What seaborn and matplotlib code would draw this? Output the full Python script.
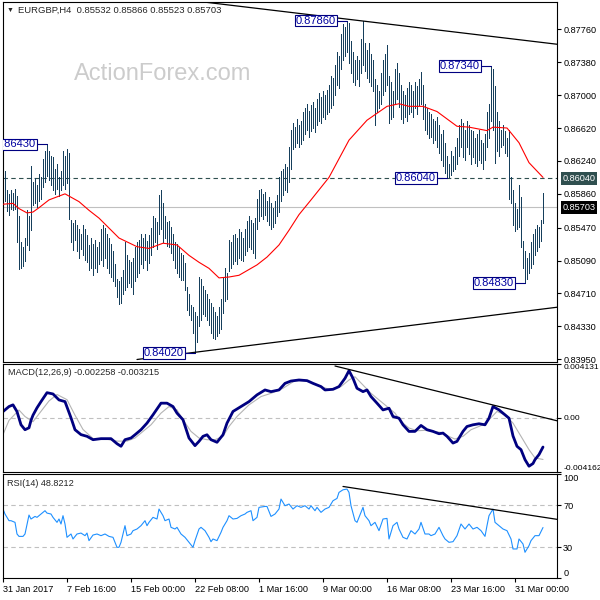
import numpy as np
import pandas as pd
import seaborn as sns
import matplotlib.pyplot as plt
import matplotlib.transforms as mtransforms

sns.set_style("white")
plt.rcParams['font.family'] = ['Liberation Sans', 'DejaVu Sans']

# ---- values (H4 bars, index 0 = 31 Jan 2017 00:00) ----
title_text = "EURGBP,H4  0.85532 0.85866 0.85523 0.85703"
macd_text = "MACD(12,26,9) -0.002258 -0.003215"
rsi_text = "RSI(14) 48.8212"

highs = [
    0.8627, 0.8612, 0.8590, 0.8586, 0.8590, 0.8587, 0.8592, 0.8583, 0.8560, 0.8530,
    0.8525, 0.8535, 0.8567, 0.8560, 0.8618, 0.8600, 0.8604, 0.8596, 0.8609, 0.8606,
    0.8626, 0.8635, 0.8643, 0.8635, 0.8630, 0.8628, 0.8615, 0.8620, 0.8605, 0.8612,
    0.8636, 0.8630, 0.8638, 0.8633, 0.8556, 0.8552, 0.8556, 0.8550, 0.8545, 0.8540,
    0.8550, 0.8545, 0.8538, 0.8527, 0.8535, 0.8528, 0.8533, 0.8525, 0.8530, 0.8545,
    0.8550, 0.8546, 0.8540, 0.8535, 0.8528, 0.8520, 0.8505, 0.8488, 0.8485, 0.8490,
    0.8498, 0.8530, 0.8515, 0.8510, 0.8507, 0.8512, 0.8525, 0.8530, 0.8533, 0.8540,
    0.8535, 0.8540, 0.8532, 0.8538, 0.8547, 0.8560, 0.8558, 0.8553, 0.8585, 0.8591,
    0.8575, 0.8560, 0.8553, 0.8555, 0.8548, 0.8540, 0.8530, 0.8528, 0.8525, 0.8518,
    0.8515, 0.8506, 0.8478, 0.8470, 0.8458, 0.8455, 0.8450, 0.8445, 0.8490, 0.8488,
    0.8480, 0.8475, 0.8470, 0.8465, 0.8460, 0.8455, 0.8450, 0.8445, 0.8455, 0.8465,
    0.8490, 0.8500, 0.8495, 0.8533, 0.8530, 0.8538, 0.8540, 0.8535, 0.8545, 0.8542,
    0.8535, 0.8545, 0.8555, 0.8560, 0.8556, 0.8552, 0.8558, 0.8580, 0.8590, 0.8592,
    0.8586, 0.8588, 0.8578, 0.8582, 0.8575, 0.8570, 0.8578, 0.8585, 0.8605, 0.8612,
    0.8615, 0.8620, 0.8617, 0.8640, 0.8660, 0.8668, 0.8663, 0.8672, 0.8666, 0.8670,
    0.8680, 0.8685, 0.8690, 0.8682, 0.8688, 0.8692, 0.8685, 0.8695, 0.8702, 0.8698,
    0.8705, 0.8700, 0.8706, 0.8712, 0.8722, 0.8720, 0.8735, 0.8750, 0.8745, 0.8770,
    0.8782, 0.8779, 0.8786, 0.8783, 0.8762, 0.8750, 0.8740, 0.8745, 0.8740, 0.8765,
    0.8785, 0.8760, 0.8752, 0.8760, 0.8748, 0.8740, 0.8718, 0.8712, 0.8705, 0.8725,
    0.8740, 0.8748, 0.8758, 0.8722, 0.8715, 0.8705, 0.8730, 0.8737, 0.8725, 0.8712,
    0.8705, 0.8700, 0.8708, 0.8715, 0.8712, 0.8705, 0.8715, 0.8710, 0.8718, 0.8727,
    0.8712, 0.8690, 0.8685, 0.8680, 0.8678, 0.8672, 0.8670, 0.8675, 0.8665, 0.8655,
    0.8660, 0.8645, 0.8630, 0.8620, 0.8635, 0.8630, 0.8640, 0.8650, 0.8665, 0.8672,
    0.8668, 0.8660, 0.8670, 0.8665, 0.8660, 0.8658, 0.8650, 0.8655, 0.8660, 0.8648,
    0.8645, 0.8655, 0.8680, 0.8690, 0.8734, 0.8730, 0.8710, 0.8680, 0.8670, 0.8660,
    0.8665, 0.8658, 0.8650, 0.8660, 0.8605, 0.8590, 0.8575, 0.8568, 0.8596, 0.8582,
    0.8532, 0.8520, 0.8512, 0.8518, 0.8530, 0.8540, 0.8545, 0.8550, 0.8548, 0.8556,
    0.85866]
lows = [
    0.8550, 0.8578, 0.8566, 0.8562, 0.8569, 0.8567, 0.8568, 0.8530, 0.8499, 0.8500,
    0.8503, 0.8508, 0.8527, 0.8521, 0.8544, 0.8573, 0.8575, 0.8571, 0.8578, 0.8580,
    0.8594, 0.8600, 0.8607, 0.8602, 0.8596, 0.8590, 0.8586, 0.8592, 0.8584, 0.8590,
    0.8596, 0.8592, 0.8598, 0.8557, 0.8530, 0.8521, 0.8533, 0.8520, 0.8512, 0.8522,
    0.8515, 0.8510, 0.8507, 0.8498, 0.8500, 0.8492, 0.8500, 0.8496, 0.8505, 0.8510,
    0.8503, 0.8512, 0.8500, 0.8495, 0.8490, 0.8485, 0.8480, 0.8467, 0.8459, 0.8460,
    0.8470, 0.8475, 0.8478, 0.8483, 0.8478, 0.8470, 0.8485, 0.8490, 0.8495, 0.8505,
    0.8500, 0.8510, 0.8498, 0.8506, 0.8515, 0.8525, 0.8530, 0.8522, 0.8540, 0.8545,
    0.8530, 0.8535, 0.8526, 0.8525, 0.8518, 0.8510, 0.8500, 0.8495, 0.8490, 0.8486,
    0.8487, 0.8475, 0.8452, 0.8446, 0.8440, 0.8425, 0.8402, 0.8415, 0.8433, 0.8440,
    0.8447, 0.8445, 0.8440, 0.8435, 0.8425, 0.8420, 0.8418, 0.8422, 0.8425, 0.8430,
    0.8448, 0.8462, 0.8465, 0.8497, 0.8500, 0.8505, 0.8508, 0.8505, 0.8512, 0.8510,
    0.8508, 0.8515, 0.8520, 0.8525, 0.8522, 0.8518, 0.8512, 0.8545, 0.8555, 0.8560,
    0.8557, 0.8562, 0.8555, 0.8550, 0.8545, 0.8548, 0.8552, 0.8560, 0.8565, 0.8578,
    0.8585, 0.8590, 0.8588, 0.8600, 0.8615, 0.8638, 0.8640, 0.8645, 0.8640, 0.8643,
    0.8648, 0.8655, 0.8660, 0.8652, 0.8658, 0.8662, 0.8657, 0.8665, 0.8670, 0.8668,
    0.8675, 0.8672, 0.8678, 0.8680, 0.8685, 0.8688, 0.8700, 0.8712, 0.8708, 0.8730,
    0.8740, 0.8745, 0.8750, 0.8737, 0.8725, 0.8715, 0.8712, 0.8718, 0.8710, 0.8725,
    0.8735, 0.8728, 0.8720, 0.8715, 0.8710, 0.8705, 0.8665, 0.8680, 0.8685, 0.8690,
    0.8700, 0.8705, 0.8712, 0.8668, 0.8672, 0.8675, 0.8690, 0.8695, 0.8686, 0.8672,
    0.8668, 0.8675, 0.8670, 0.8678, 0.8680, 0.8675, 0.8685, 0.8678, 0.8688, 0.8690,
    0.8672, 0.8660, 0.8655, 0.8650, 0.8652, 0.8645, 0.8648, 0.8640, 0.8633, 0.8625,
    0.8618, 0.8610, 0.8604, 0.8606, 0.8608, 0.8612, 0.8615, 0.8620, 0.8630, 0.8640,
    0.8628, 0.8625, 0.8640, 0.8632, 0.8620, 0.8628, 0.8622, 0.8618, 0.8625, 0.8622,
    0.8615, 0.8625, 0.8640, 0.8650, 0.8670, 0.8660, 0.8622, 0.8635, 0.8630, 0.8640,
    0.8642, 0.8633, 0.8630, 0.8580, 0.8575, 0.8550, 0.8543, 0.8545, 0.8548, 0.8525,
    0.8500, 0.8483, 0.8488, 0.8495, 0.8500, 0.8505, 0.8515, 0.8520, 0.8525, 0.8532,
    0.85523]

# moving average (red)
ma_idx = [0, 5, 8, 12, 15, 18, 23, 31, 38, 43, 48, 58, 67, 73, 80, 87, 93, 98, 103,
          108, 113, 118, 127, 132, 138, 143, 148, 154, 163, 173, 182, 192, 198, 203,
          210, 217, 227, 233, 242, 245, 252, 258, 263, 270]
ma_val = [0.8574, 0.8575, 0.8569, 0.8564, 0.8565, 0.8570, 0.8579, 0.8586, 0.8577,
          0.8567, 0.8558, 0.8535, 0.8525, 0.8523, 0.8529, 0.8527, 0.8515, 0.8507,
          0.8500, 0.8489, 0.8490, 0.8492, 0.8504, 0.8513, 0.8527, 0.8544, 0.8562,
          0.8579, 0.8605, 0.8648, 0.8671, 0.8687, 0.8690, 0.8687, 0.8687, 0.8681,
          0.8664, 0.8663, 0.8659, 0.8663, 0.8662, 0.8645, 0.8622, 0.8605]

macd_idx = [0, 3, 5, 7, 9, 11, 13, 14, 15, 17, 19, 22, 25, 28, 31, 34, 36, 39, 42, 45,
            49, 54, 57, 59, 61, 64, 66, 69, 72, 75, 79, 82, 85, 87, 90, 93, 96, 98, 100,
            102, 104, 107, 110, 112, 115, 119, 123, 127, 131, 134, 138, 141, 144, 148,
            152, 155, 159, 161, 165, 168, 171, 173, 175, 177, 180, 182, 184, 187, 190,
            193, 195, 198, 200, 203, 206, 209, 212, 215, 218, 220, 222, 225, 227, 230,
            232, 235, 238, 241, 243, 245, 248, 251, 253, 255, 257, 259, 261, 263, 265,
            266, 268, 270]
macd_val = [0.00048, 0.00087, 0.00100, 0.00048, -0.00054, -0.00092, -0.00077, -0.00020,
            0.00020, 0.00077, 0.00125, 0.00194, 0.00184, 0.00138, 0.00125, 0.00000,
            -0.00092, -0.00130, -0.00143, -0.00169, -0.00161, -0.00161, -0.00200,
            -0.00220, -0.00169, -0.00156, -0.00131, -0.00092, -0.00041, 0.00023,
            0.00113, 0.00113, 0.00087, 0.00036, -0.00015, -0.00156, -0.00215, -0.00182,
            -0.00143, -0.00131, -0.00169, -0.00189, -0.00131, -0.00041, 0.00049,
            0.00087, 0.00125, 0.00177, 0.00215, 0.00202, 0.00215, 0.00266, 0.00284,
            0.00292, 0.00287, 0.00266, 0.00241, 0.00215, 0.00220, 0.00241, 0.00305,
            0.00364, 0.00305, 0.00228, 0.00202, 0.00215, 0.00164, 0.00113, 0.00061,
            0.00074, 0.00010, -0.00003, -0.00054, -0.00105, -0.00105, -0.00059,
            -0.00092, -0.00105, -0.00123, -0.00118, -0.00143, -0.00195, -0.00182,
            -0.00105, -0.00067, -0.00054, -0.00046, -0.00054, -0.00003, 0.00087,
            0.00061, 0.00023, -0.00003, -0.00140, -0.00220, -0.00246, -0.00323,
            -0.00374, -0.00353, -0.00323, -0.00284, -0.002258]
signal_idx = [0, 3, 8, 11, 15, 19, 23, 27, 32, 36, 40, 45, 50, 57, 62, 66, 69, 74, 79,
              83, 87, 90, 94, 98, 102, 106, 110, 113, 117, 123, 129, 134, 140, 146, 152,
              157, 163, 169, 173, 176, 180, 184, 188, 192, 196, 199, 203, 207, 211, 215,
              219, 222, 226, 230, 234, 240, 243, 247, 251, 255, 259, 263, 266, 270]
signal_val = [-0.0013, -0.0002, 0.0006, 0.0001, -0.0003, 0.0005, 0.0013, 0.0018, 0.0014,
              0.0002, -0.0009, -0.0016, -0.0016, -0.0018, -0.0018, -0.00156, -0.00118,
              -0.00054, 0.00036, 0.00087, 0.00061, -0.00015, -0.00105, -0.00156,
              -0.00169, -0.00169, -0.00143, -0.00067, 0.00010, 0.00100, 0.00164,
              0.00189, 0.00228, 0.00287, 0.00287, 0.00253, 0.00220, 0.00241, 0.00292,
              0.00317, 0.00253, 0.00189, 0.00138, 0.00087, 0.00036, -0.00028, -0.00079,
              -0.00100, -0.00097, -0.00105, -0.00113, -0.00138, -0.00164, -0.00143,
              -0.00092, -0.00054, -0.00015, 0.00049, 0.00023, -0.00041, -0.00143,
              -0.00246, -0.00310, -0.003215]

rsi_idx = [0, 1, 3, 4, 6, 7, 8, 10, 11, 13, 14, 16, 17, 19, 20, 21, 22, 24, 25, 27, 28,
           29, 30, 31, 32, 34, 35, 37, 39, 41, 42, 43, 45, 47, 49, 51, 53, 55, 57, 58,
           59, 61, 62, 64, 65, 67, 69, 71, 72, 73, 75, 77, 78, 80, 81, 83, 84, 86, 87,
           89, 91, 93, 95, 96, 98, 99, 101, 103, 104, 105, 107, 109, 110, 112, 113, 115,
           117, 119, 121, 122, 124, 125, 127, 128, 131, 132, 134, 136, 138, 139, 141,
           143, 145, 147, 149, 151, 153, 154, 156, 157, 159, 161, 163, 165, 167, 168,
           170, 172, 173, 174, 176, 177, 178, 180, 181, 183, 184, 186, 188, 190, 192,
           193, 195, 197, 198, 200, 202, 204, 206, 208, 209, 211, 213, 214, 216, 218,
           220, 221, 223, 225, 227, 229, 231, 233, 235, 237, 239, 241, 242, 243, 245,
           246, 248, 250, 252, 254, 255, 257, 258, 260, 261, 263, 264, 266, 268, 270]
rsi_val = [66.6, 61.8, 55.4, 55.4, 53.8, 42.6, 40.3, 40.3, 42.6, 60.8, 57.0, 59.5, 58.6,
           61.8, 63.4, 65.0, 62.7, 61.8, 58.6, 53.8, 57.0, 52.2, 60.2, 52.2, 39.4, 42.6,
           37.8, 42.6, 43.5, 41.0, 43.5, 36.2, 41.6, 42.6, 41.0, 42.6, 40.3, 39.4, 29.8,
           29.8, 34.6, 50.6, 41.0, 42.6, 45.8, 47.4, 50.6, 55.4, 50.6, 53.8, 58.6, 57.0,
           66.6, 60.2, 55.4, 57.0, 49.0, 47.4, 49.0, 42.6, 39.4, 34.6, 29.8, 36.2, 47.4,
           49.0, 45.8, 39.4, 35.2, 37.8, 36.2, 44.2, 49.0, 55.4, 60.2, 57.0, 57.6, 60.2,
           61.8, 63.4, 65.0, 55.4, 58.6, 68.2, 69.1, 69.1, 59.5, 61.8, 66.6, 76.2, 69.8,
           71.4, 66.6, 69.8, 68.2, 69.8, 66.6, 69.8, 65.0, 68.2, 63.4, 66.6, 68.2, 74.6,
           76.8, 82.6, 85.1, 85.8, 82.6, 69.8, 55.4, 53.8, 58.6, 68.2, 60.2, 55.4, 50.6,
           53.8, 45.8, 57.0, 57.6, 37.8, 50.6, 53.8, 47.4, 39.4, 37.8, 45.8, 42.6, 47.4,
           53.8, 42.6, 42.6, 41.0, 42.6, 49.0, 41.0, 37.8, 34.6, 35.2, 41.0, 52.2, 47.4,
           52.2, 47.4, 49.0, 45.8, 40.3, 50.6, 60.2, 66.6, 53.8, 50.6, 47.4, 45.8, 37.8,
           28.2, 28.2, 37.8, 33.0, 25.0, 31.4, 36.2, 41.0, 41.0, 48.82]

# trend lines (bar index, value)
res_x, res_y = [102, 277], [0.8807, 0.87587]
sup_x, sup_y = [67, 277], [0.83948, 0.84551]
macd_tl_x, macd_tl_y = [166, 277], [0.0040, -0.00023]
rsi_tl_x, rsi_tl_y = [170, 277], [88.3, 56.7]

# swing labels
swing_idx = [22, 172, 244, 222, 261, 96]
swing_val = [0.8643, 0.8786, 0.8734, 0.8604, 0.8483, 0.8402]

level_price = 0.8604
last_price = 0.85703

price_ticks = [0.8395, 0.8433, 0.8471, 0.8509, 0.8547, 0.8586, 0.8624, 0.8662,
               0.8700, 0.8738, 0.8776]
macd_ticks = [-0.004162, 0.0, 0.004131]
macd_labels = ["-0.004162", "0.00", "0.004131"]
rsi_ticks = [0, 30, 70, 100]
date_idx = [0, 32, 64, 96, 128, 160, 192, 224, 256]
date_labels = ["31 Jan 2017", "7 Feb 16:00", "15 Feb 00:00", "22 Feb 08:00",
               "1 Mar 16:00", "9 Mar 00:00", "16 Mar 08:00", "23 Mar 16:00",
               "31 Mar 00:00"]

BAR = "#163f5c"
NAVY = "#000080"
FS = 6.6

fig = plt.figure(figsize=(6, 6), dpi=100)
ax1 = fig.add_axes([0.0045, 0.39667, 0.92433, 0.6005])
ax2 = fig.add_axes([0.0045, 0.21383, 0.92433, 0.179], sharex=ax1)
ax3 = fig.add_axes([0.0045, 0.03617, 0.92433, 0.17333], sharex=ax1)

# price panel
bars = pd.DataFrame({"bar": np.arange(len(highs)), "high": highs, "low": lows})
ax1.axhline(last_price, color="#c0c0c0", lw=0.8, zorder=1)
ax1.axhline(level_price, color="#2f4f4f", lw=0.8, ls=(0, (4, 3)), zorder=1)
ax1.vlines(bars["bar"], bars["low"], bars["high"], color=BAR, lw=0.5,
           antialiased=False, zorder=2)
sns.lineplot(x=ma_idx, y=ma_val, ax=ax1, color="red", lw=0.8, zorder=3)
sns.lineplot(x=res_x, y=res_y, ax=ax1, color="black", lw=0.9, zorder=3)
sns.lineplot(x=sup_x, y=sup_y, ax=ax1, color="black", lw=0.9, zorder=3)

for i, v in zip(swing_idx, swing_val):
    ax1.plot([i - 5, i], [v, v], color=NAVY, lw=0.8, zorder=4)
    ax1.annotate(f"{v:.5f}", xy=(i, v), xytext=(-8.0, 0), textcoords="offset points",
                 ha="right", va="center", fontsize=8, color="#0000a0", clip_on=True,
                 bbox=dict(boxstyle="square,pad=0.08", fc="white", ec=NAVY, lw=0.8),
                 zorder=5)

blend = mtransforms.blended_transform_factory(ax1.transAxes, ax1.transData)
ax1.text(1.0095, level_price, f"{level_price:.5f}", transform=blend, ha="left",
         va="center", fontsize=FS, color="white", clip_on=False,
         bbox=dict(boxstyle="square,pad=0.2", fc="#2f4f4f", ec="none"))
ax1.text(1.0095, last_price, f"{last_price:.5f}", transform=blend, ha="left",
         va="center", fontsize=FS, color="white", clip_on=False,
         bbox=dict(boxstyle="square,pad=0.2", fc="black", ec="none"))

ax1.set_ylim(0.83919, 0.88078)
ax1.set_yticks(price_ticks, [f"{p:.5f}" for p in price_ticks])

# MACD panel
ax2.axhline(0, color="#c0c0c0", lw=0.8, ls=(0, (4, 3)))
sns.lineplot(x=signal_idx, y=signal_val, ax=ax2, color="#b4b4b4", lw=0.8)
sns.lineplot(x=macd_idx, y=macd_val, ax=ax2, color=NAVY, lw=2.0)
sns.lineplot(x=macd_tl_x, y=macd_tl_y, ax=ax2, color="black", lw=0.9)
ax2.set_ylim(-0.004162, 0.004131)
ax2.set_yticks(macd_ticks, macd_labels)

# RSI panel
ax3.axhline(30, color="#c0c0c0", lw=0.8, ls=(0, (4, 3)))
ax3.axhline(70, color="#c0c0c0", lw=0.8, ls=(0, (4, 3)))
sns.lineplot(x=rsi_idx, y=rsi_val, ax=ax3, color="#1e90ff", lw=0.8)
sns.lineplot(x=rsi_tl_x, y=rsi_tl_y, ax=ax3, color="black", lw=0.9)
ax3.set_ylim(0, 100)
ax3.set_yticks(rsi_ticks, [str(t) for t in rsi_ticks])

ax3.set_xlim(-0.15, 277.15)
ax3.set_xticks(date_idx, date_labels)
for lab in ax3.get_xticklabels():
    lab.set_ha("left")

for ax in (ax1, ax2, ax3):
    ax.set_xlabel("")
    ax.set_ylabel("")
    ax.yaxis.tick_right()
    ax.tick_params(axis="y", length=3, width=0.8, pad=1.2, labelsize=FS,
                   colors="black", direction="out")
    for s in ax.spines.values():
        s.set_color("black")
        s.set_linewidth(0.8)
ax2.tick_params(axis="y", labelsize=6.1)
for ax in (ax1, ax2):
    ax.tick_params(axis="x", bottom=False, labelbottom=False)
ax3.tick_params(axis="x", length=3, width=0.8, pad=1.5, labelsize=FS,
                colors="black", direction="out", bottom=True)

# end labels sit inside the panel edges
yl = ax2.get_yticklabels()
yl[0].set_va("bottom")
yl[-1].set_va("top")
yl = ax3.get_yticklabels()
yl[0].set_va("bottom")
yl[-1].set_va("top")

# texts
fig.text(7 / 600, 1 - 10.5 / 600, "\u25bc", fontsize=5, va="center")
fig.text(18 / 600, 1 - 10.5 / 600, title_text, fontsize=6.8, va="center")
fig.text(74 / 600, 1 - 73.5 / 600, "ActionForex.com", fontsize=17, color="#cccccc",
         va="center")
ax2.text(0.009, 0.92, macd_text, transform=ax2.transAxes, fontsize=FS, va="center")
ax3.text(0.008, 0.915, rsi_text, transform=ax3.transAxes, fontsize=FS, va="center")

fig.savefig("out.png", dpi=100)
